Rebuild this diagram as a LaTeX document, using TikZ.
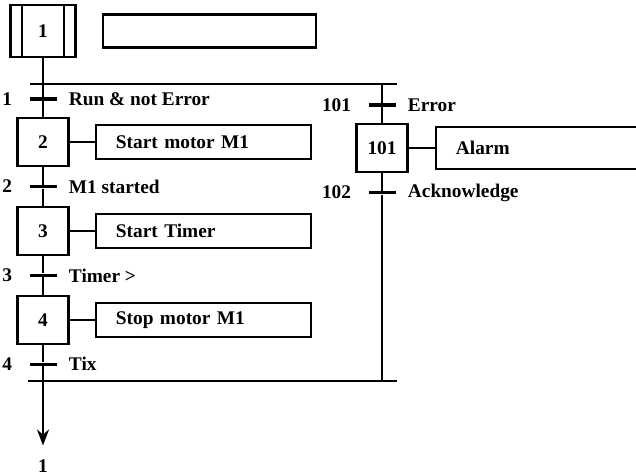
\documentclass[tikz,border=0pt]{standalone}
\usepackage{fontspec}
\setmainfont{Liberation Serif}
\usetikzlibrary{arrows.meta, positioning}

\begin{document}
\begin{tikzpicture}[
    font=\fontsize{11}{13}\selectfont\bfseries,
    node distance=0.345cm and 0.5cm,
    stepbox/.style={draw, line width=1.4pt, minimum width=1.02cm, minimum height=0.96cm, inner sep=0pt},
    act/.style={draw, line width=1.4pt, text width=3.5cm, minimum height=0.68cm,
                align=left, inner xsep=0.4cm},
    trans/.style={fill=black, minimum width=0.54cm, minimum height=1.8pt, inner sep=0pt},
    lbl/.style={inner sep=1pt},
    ln/.style={line width=1.4pt}
]
\clip (0,0) rectangle (12.72,-9.48);
% initial step
\node[stepbox, minimum width=1.3cm, minimum height=1.04cm] (s1) at (0.86,-0.62) {1};
\draw[ln] ([xshift=-0.42cm]s1.north) -- ([xshift=-0.42cm]s1.south);
\draw[ln] ([xshift=0.42cm]s1.north) -- ([xshift=0.42cm]s1.south);
\node[act, right=0.5cm of s1, text width=3.46cm, minimum height=0.66cm] (a1) {};
% divergence / convergence
\coordinate (divL) at (0.6,-1.68);
\coordinate (divR) at (7.94,-1.68);
\coordinate (convL) at (0.56,-7.62);
\coordinate (convR) at (7.94,-7.62);
\draw[ln] (divL) -- (divR);
\draw[ln] (convL) -- (convR);
% main sequence
\node[trans] (t1) at (0.86,-1.98) {};
\node[stepbox, below=0.32cm of t1] (s2) {2};
\node[trans, below=of s2] (t2) {};
\node[stepbox, below=of t2] (s3) {3};
\node[trans, below=of s3] (t3) {};
\node[stepbox, below=of t3] (s4) {4};
\node[trans, below=of s4] (t4) {};
\node[act, right=of s2] (a2) {Start motor M1};
\node[act, right=of s3] (a3) {Start Timer};
\node[act, right=of s4] (a4) {Stop motor M1};
\node[lbl, left=0.3cm of t1] (n1) {1};
\node[lbl, left=0.3cm of t2] (n2) {2};
\node[lbl, left=0.3cm of t3] (n3) {3};
\node[lbl, left=0.3cm of t4] (n4) {4};
\node[lbl, right=0.2cm of t1] (c1) {Run \& not Error};
\node[lbl, right=0.2cm of t2] (c2) {M1 started};
\node[lbl, right=0.2cm of t3] (c3) {Timer >};
\node[lbl, right=0.2cm of t4] (c4) {Tix};
\node[lbl] (ret) at (0.86,-9.32) {1};
\draw[ln] (s1) -- (t1);
\foreach \a/\b in {t1/s2, s2/t2, t2/s3, s3/t3, t3/s4, s4/t4}
   \draw[ln] (\a) -- (\b);
\draw[ln, -{Stealth[length=0.32cm, width=0.24cm]}, shorten >=0.24cm] (t4) -- (ret);
% error branch
\coordinate (brTop) at (7.64,-1.68);
\coordinate (brBot) at (7.64,-7.62);
\node[trans] (t101) at (7.64,-2.1) {};
\node[stepbox, below=0.32cm of t101] (s101) {101};
\node[trans, below=of s101] (t102) {};
\node[act, right=0.52cm of s101, minimum height=0.84cm] (a101) {Alarm};
\node[lbl, left=0.3cm of t101] (n101) {101};
\node[lbl, left=0.3cm of t102] (n102) {102};
\node[lbl, right=0.2cm of t101] (c101) {Error};
\node[lbl, right=0.2cm of t102] (c102) {Acknowledge};
\foreach \a/\b in {brTop/t101, t101/s101, s101/t102, t102/brBot}
   \draw[ln] (\a) -- (\b);
\foreach \a/\b in {s2/a2, s3/a3, s4/a4, s101/a101}
   \draw[ln] (\a) -- (\b);
\end{tikzpicture}
\end{document}
